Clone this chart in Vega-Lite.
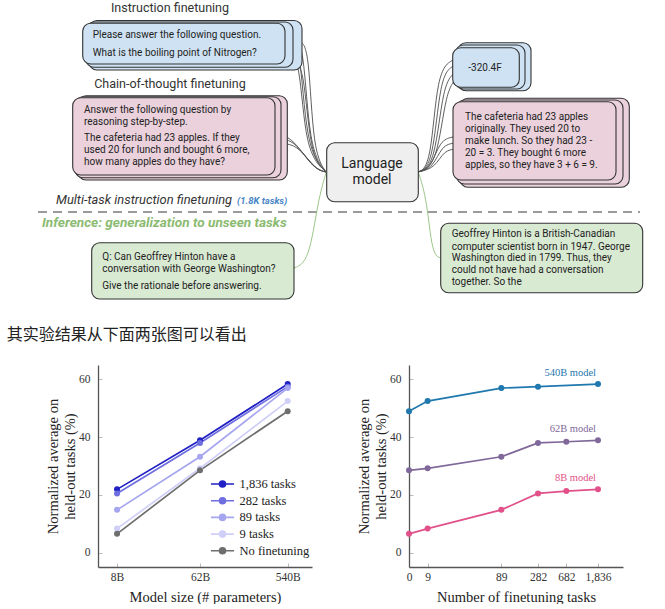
{
  "$schema": "https://vega.github.io/schema/vega-lite/v6.json",
  "padding": 0,
  "background": "white",
  "config": {
    "view": {"stroke": null},
    "axis": {"grid": false, "domainColor": "#555", "domainWidth": 1.3, "tickColor": "#bbb", "tickSize": -4, "labelFont": "Liberation Serif", "labelFontSize": 11.5, "labelColor": "#333", "titleFont": "Liberation Serif", "titleFontSize": 14.5, "titleFontWeight": "normal", "titleColor": "#222", "labelFlush": false, "labelOverlap": false},
    "axisX": {"labelPadding": 8, "titlePadding": 8},
    "axisY": {"labelPadding": 12, "titlePadding": 1, "titleLineHeight": 17.5}
  },
  "datasets": {
    "boxes": [
      {"kind": "blue", "x": 89, "x2": 302, "y": 20.5, "y2": 70},
      {"kind": "blue", "x": 86, "x2": 293, "y": 22, "y2": 67.3},
      {"kind": "blue", "x": 82.7, "x2": 285, "y": 23.3, "y2": 64},
      {"kind": "pink", "x": 78, "x2": 287.3, "y": 95.7, "y2": 180},
      {"kind": "pink", "x": 75, "x2": 281, "y": 96.8, "y2": 177.7},
      {"kind": "pink", "x": 72.7, "x2": 275, "y": 97.7, "y2": 175},
      {"kind": "green", "x": 91.7, "x2": 294, "y": 242.7, "y2": 299},
      {"kind": "gray", "x": 326.7, "x2": 418.3, "y": 142.7, "y2": 201.7},
      {"kind": "blue", "x": 458, "x2": 531, "y": 42.7, "y2": 90.7},
      {"kind": "blue", "x": 455.5, "x2": 525, "y": 45, "y2": 89},
      {"kind": "blue", "x": 452.7, "x2": 519.3, "y": 47.7, "y2": 87.3},
      {"kind": "pink", "x": 460, "x2": 629.3, "y": 98.3, "y2": 187.3},
      {"kind": "pink", "x": 456.5, "x2": 623, "y": 100, "y2": 184},
      {"kind": "pink", "x": 453, "x2": 616, "y": 101.7, "y2": 180},
      {"kind": "green", "x": 440.7, "x2": 642.7, "y": 223.3, "y2": 292.7}
    ],
    "curves": [
      {"id": "a1", "o": 0, "x": 286, "y": 30, "grp": "gray"}, {"id": "a1", "o": 1, "x": 300, "y": 36, "grp": "gray"}, {"id": "a1", "o": 2, "x": 306, "y": 150, "grp": "gray"}, {"id": "a1", "o": 3, "x": 326, "y": 172, "grp": "gray"},
      {"id": "a2", "o": 0, "x": 292, "y": 36, "grp": "gray"}, {"id": "a2", "o": 1, "x": 304, "y": 42, "grp": "gray"}, {"id": "a2", "o": 2, "x": 309, "y": 150, "grp": "gray"}, {"id": "a2", "o": 3, "x": 326, "y": 172, "grp": "gray"},
      {"id": "a3", "o": 0, "x": 301, "y": 42, "grp": "gray"}, {"id": "a3", "o": 1, "x": 309, "y": 50, "grp": "gray"}, {"id": "a3", "o": 2, "x": 313, "y": 152, "grp": "gray"}, {"id": "a3", "o": 3, "x": 326, "y": 172, "grp": "gray"},
      {"id": "a4", "o": 0, "x": 286, "y": 50, "grp": "gray"}, {"id": "a4", "o": 1, "x": 300, "y": 56, "grp": "gray"}, {"id": "a4", "o": 2, "x": 305, "y": 152, "grp": "gray"}, {"id": "a4", "o": 3, "x": 326, "y": 172, "grp": "gray"},
      {"id": "a5", "o": 0, "x": 293, "y": 60, "grp": "gray"}, {"id": "a5", "o": 1, "x": 304, "y": 66, "grp": "gray"}, {"id": "a5", "o": 2, "x": 310, "y": 156, "grp": "gray"}, {"id": "a5", "o": 3, "x": 326, "y": 172, "grp": "gray"},
      {"id": "b1", "o": 0, "x": 275, "y": 135, "grp": "gray"}, {"id": "b1", "o": 1, "x": 292, "y": 136, "grp": "gray"}, {"id": "b1", "o": 2, "x": 312, "y": 168, "grp": "gray"}, {"id": "b1", "o": 3, "x": 326, "y": 172, "grp": "gray"},
      {"id": "b2", "o": 0, "x": 281, "y": 139, "grp": "gray"}, {"id": "b2", "o": 1, "x": 295, "y": 141, "grp": "gray"}, {"id": "b2", "o": 2, "x": 314, "y": 169, "grp": "gray"}, {"id": "b2", "o": 3, "x": 326, "y": 172, "grp": "gray"},
      {"id": "b3", "o": 0, "x": 287, "y": 144, "grp": "gray"}, {"id": "b3", "o": 1, "x": 299, "y": 147, "grp": "gray"}, {"id": "b3", "o": 2, "x": 316, "y": 170, "grp": "gray"}, {"id": "b3", "o": 3, "x": 326, "y": 172, "grp": "gray"},
      {"id": "r1", "o": 0, "x": 418, "y": 172, "grp": "gray"}, {"id": "r1", "o": 1, "x": 431, "y": 166, "grp": "gray"}, {"id": "r1", "o": 2, "x": 437, "y": 70, "grp": "gray"}, {"id": "r1", "o": 3, "x": 453, "y": 60, "grp": "gray"},
      {"id": "r2", "o": 0, "x": 418, "y": 172, "grp": "gray"}, {"id": "r2", "o": 1, "x": 433, "y": 166, "grp": "gray"}, {"id": "r2", "o": 2, "x": 440, "y": 76, "grp": "gray"}, {"id": "r2", "o": 3, "x": 453, "y": 66, "grp": "gray"},
      {"id": "r3", "o": 0, "x": 418, "y": 172, "grp": "gray"}, {"id": "r3", "o": 1, "x": 435, "y": 166, "grp": "gray"}, {"id": "r3", "o": 2, "x": 443, "y": 82, "grp": "gray"}, {"id": "r3", "o": 3, "x": 456, "y": 72, "grp": "gray"},
      {"id": "r4", "o": 0, "x": 418, "y": 172, "grp": "gray"}, {"id": "r4", "o": 1, "x": 437, "y": 166, "grp": "gray"}, {"id": "r4", "o": 2, "x": 446, "y": 88, "grp": "gray"}, {"id": "r4", "o": 3, "x": 458, "y": 78, "grp": "gray"},
      {"id": "s1", "o": 0, "x": 418, "y": 172, "grp": "gray"}, {"id": "s1", "o": 1, "x": 431, "y": 168, "grp": "gray"}, {"id": "s1", "o": 2, "x": 440, "y": 140, "grp": "gray"}, {"id": "s1", "o": 3, "x": 453, "y": 137, "grp": "gray"},
      {"id": "s2", "o": 0, "x": 418, "y": 172, "grp": "gray"}, {"id": "s2", "o": 1, "x": 433, "y": 168, "grp": "gray"}, {"id": "s2", "o": 2, "x": 442, "y": 145, "grp": "gray"}, {"id": "s2", "o": 3, "x": 455, "y": 143, "grp": "gray"},
      {"id": "s3", "o": 0, "x": 418, "y": 172, "grp": "gray"}, {"id": "s3", "o": 1, "x": 435, "y": 168, "grp": "gray"}, {"id": "s3", "o": 2, "x": 444, "y": 150, "grp": "gray"}, {"id": "s3", "o": 3, "x": 457, "y": 149, "grp": "gray"},
      {"id": "g1", "o": 0, "x": 326, "y": 173, "grp": "green"}, {"id": "g1", "o": 1, "x": 318, "y": 200, "grp": "green"}, {"id": "g1", "o": 2, "x": 309, "y": 262, "grp": "green"}, {"id": "g1", "o": 3, "x": 294, "y": 268, "grp": "green"},
      {"id": "g2", "o": 0, "x": 419, "y": 174, "grp": "green"}, {"id": "g2", "o": 1, "x": 427, "y": 200, "grp": "green"}, {"id": "g2", "o": 2, "x": 432, "y": 255, "grp": "green"}, {"id": "g2", "o": 3, "x": 441, "y": 258, "grp": "green"}
    ],
    "texts": [
      {"s": "head", "t": "Instruction finetuning", "x": 170, "y": 7.5},
      {"s": "head", "t": "Chain-of-thought finetuning", "x": 170, "y": 84},
      {"s": "body", "t": "Please answer the following question.", "x": 92.7, "y": 35},
      {"s": "body", "t": "What is the boiling point of Nitrogen?", "x": 92.7, "y": 52.7},
      {"s": "body", "t": "Answer the following question by", "x": 84, "y": 110},
      {"s": "body", "t": "reasoning step-by-step.", "x": 84, "y": 122.3},
      {"s": "body", "t": "The cafeteria had 23 apples. If they", "x": 84, "y": 138.3},
      {"s": "body", "t": "used 20 for lunch and bought 6 more,", "x": 84, "y": 150.3},
      {"s": "body", "t": "how many apples do they have?", "x": 84, "y": 162.3},
      {"s": "body", "t": "Q: Can Geoffrey Hinton have a", "x": 102.3, "y": 256.7},
      {"s": "body", "t": "conversation with George Washington?", "x": 102.3, "y": 268.7},
      {"s": "body", "t": "Give the rationale before answering.", "x": 102.3, "y": 286},
      {"s": "body", "t": "-320.4F", "x": 468.3, "y": 68.3},
      {"s": "body", "t": "The cafeteria had 23 apples", "x": 465, "y": 117.3},
      {"s": "body", "t": "originally. They used 20 to", "x": 465, "y": 129},
      {"s": "body", "t": "make lunch. So they had 23 -", "x": 465, "y": 140.7},
      {"s": "body", "t": "20 = 3. They bought 6 more", "x": 465, "y": 152.7},
      {"s": "body", "t": "apples, so they have 3 + 6 = 9.", "x": 465, "y": 164.7},
      {"s": "body", "t": "Geoffrey Hinton is a British-Canadian", "x": 451.7, "y": 234.3},
      {"s": "body", "t": "computer scientist born in 1947. George", "x": 451.7, "y": 246.7},
      {"s": "body", "t": "Washington died in 1799. Thus, they", "x": 451.7, "y": 258.3},
      {"s": "body", "t": "could not have had a conversation", "x": 451.7, "y": 270},
      {"s": "body", "t": "together. So the", "x": 451.7, "y": 282},
      {"s": "lm", "t": "Language", "x": 372, "y": 164.3},
      {"s": "lm", "t": "model", "x": 372, "y": 180},
      {"s": "multi", "t": "Multi-task instruction finetuning", "x": 56, "y": 200},
      {"s": "tasks", "t": "(1.8K tasks)", "x": 237, "y": 200.5},
      {"s": "infer", "t": "Inference: generalization to unseen tasks", "x": 42, "y": 223},
      {"s": "zh", "t": "其实验结果从下面两张图可以看出", "x": 6.7, "y": 335}
    ],
    "dash": [{"x": 38, "x2": 640, "y": 212}],
    "sizes": [
      {"setting": "1,836 tasks", "params": 8, "score": 21.9}, {"setting": "1,836 tasks", "params": 62, "score": 38.9}, {"setting": "1,836 tasks", "params": 540, "score": 58.4},
      {"setting": "282 tasks", "params": 8, "score": 20.5}, {"setting": "282 tasks", "params": 62, "score": 38.0}, {"setting": "282 tasks", "params": 540, "score": 57.5},
      {"setting": "89 tasks", "params": 8, "score": 14.8}, {"setting": "89 tasks", "params": 62, "score": 33.2}, {"setting": "89 tasks", "params": 540, "score": 57.0},
      {"setting": "9 tasks", "params": 8, "score": 8.3}, {"setting": "9 tasks", "params": 62, "score": 29.2}, {"setting": "9 tasks", "params": 540, "score": 52.5},
      {"setting": "No finetuning", "params": 8, "score": 6.5}, {"setting": "No finetuning", "params": 62, "score": 28.5}, {"setting": "No finetuning", "params": 540, "score": 49.0}
    ],
    "tasks": [
      {"model": "540B model", "tasks": 0, "score": 49.0}, {"model": "540B model", "tasks": 9, "score": 52.5}, {"model": "540B model", "tasks": 89, "score": 57.0}, {"model": "540B model", "tasks": 282, "score": 57.5}, {"model": "540B model", "tasks": 1836, "score": 58.4},
      {"model": "62B model", "tasks": 0, "score": 28.5}, {"model": "62B model", "tasks": 9, "score": 29.2}, {"model": "62B model", "tasks": 89, "score": 33.2}, {"model": "62B model", "tasks": 282, "score": 38.0}, {"model": "62B model", "tasks": 682, "score": 38.4}, {"model": "62B model", "tasks": 1836, "score": 38.9},
      {"model": "8B model", "tasks": 0, "score": 6.5}, {"model": "8B model", "tasks": 9, "score": 8.3}, {"model": "8B model", "tasks": 89, "score": 14.8}, {"model": "8B model", "tasks": 282, "score": 20.5}, {"model": "8B model", "tasks": 682, "score": 21.3}, {"model": "8B model", "tasks": 1836, "score": 21.9}
    ],
    "empty": []
  },
  "resolve": {"scale": {"fill": "independent", "stroke": "independent", "color": "independent"}},
  "spacing": 15,
  "vconcat": [
    {
      "width": 665,
      "height": 350,
      "layer": [
        {
          "data": {"name": "dash"},
          "mark": {"type": "rule", "stroke": "#9a9a9a", "strokeWidth": 2, "strokeDash": [9, 6]},
          "encoding": {
            "x": {"field": "x", "type": "quantitative", "scale": {"domain": [0, 665], "nice": false, "zero": false}, "axis": null},
            "x2": {"field": "x2"},
            "y": {"field": "y", "type": "quantitative", "scale": {"domain": [0, 350], "nice": false, "zero": false, "reverse": true}, "axis": null}
          }
        },
        {
          "data": {"name": "curves"},
          "mark": {"type": "line", "interpolate": "basis", "strokeWidth": 0.9},
          "encoding": {
            "x": {"field": "x", "type": "quantitative", "scale": {"domain": [0, 665], "nice": false, "zero": false}, "axis": null},
            "y": {"field": "y", "type": "quantitative", "scale": {"domain": [0, 350], "nice": false, "zero": false, "reverse": true}, "axis": null},
            "detail": {"field": "id"},
            "order": {"field": "o"},
            "stroke": {"field": "grp", "type": "nominal", "scale": {"domain": ["gray", "green"], "range": ["#4d4d4d", "#8fc079"]}, "legend": null}
          }
        },
        {
          "data": {"name": "boxes"},
          "mark": {"type": "rect", "cornerRadius": 8, "stroke": "#333", "strokeWidth": 1.1},
          "encoding": {
            "x": {"field": "x", "type": "quantitative", "scale": {"domain": [0, 665], "nice": false, "zero": false}, "axis": null},
            "x2": {"field": "x2"},
            "y": {"field": "y", "type": "quantitative", "scale": {"domain": [0, 350], "nice": false, "zero": false, "reverse": true}, "axis": null},
            "y2": {"field": "y2"},
            "fill": {"field": "kind", "type": "nominal", "scale": {"domain": ["blue", "pink", "green", "gray"], "range": ["#cfe2f3", "#ead1dc", "#d9ead3", "#efefef"]}, "legend": null}
          }
        },
        {
          "data": {"name": "texts"},
          "transform": [{"filter": "datum.s == 'body'"}],
          "mark": {"type": "text", "align": "left", "baseline": "middle", "font": "Roboto", "fontSize": 10, "fill": "#222"},
          "encoding": {
            "x": {"field": "x", "type": "quantitative", "scale": {"domain": [0, 665], "nice": false, "zero": false}, "axis": null},
            "y": {"field": "y", "type": "quantitative", "scale": {"domain": [0, 350], "nice": false, "zero": false, "reverse": true}, "axis": null},
            "text": {"field": "t"}
          }
        },
        {
          "data": {"name": "texts"},
          "transform": [{"filter": "datum.s == 'head'"}],
          "mark": {"type": "text", "align": "center", "baseline": "middle", "font": "Roboto", "fontSize": 12.5, "fill": "#333"},
          "encoding": {
            "x": {"field": "x", "type": "quantitative", "scale": {"domain": [0, 665], "nice": false, "zero": false}, "axis": null},
            "y": {"field": "y", "type": "quantitative", "scale": {"domain": [0, 350], "nice": false, "zero": false, "reverse": true}, "axis": null},
            "text": {"field": "t"}
          }
        },
        {
          "data": {"name": "texts"},
          "transform": [{"filter": "datum.s == 'lm'"}],
          "mark": {"type": "text", "align": "center", "baseline": "middle", "font": "Roboto", "fontSize": 14, "fill": "#222"},
          "encoding": {
            "x": {"field": "x", "type": "quantitative", "scale": {"domain": [0, 665], "nice": false, "zero": false}, "axis": null},
            "y": {"field": "y", "type": "quantitative", "scale": {"domain": [0, 350], "nice": false, "zero": false, "reverse": true}, "axis": null},
            "text": {"field": "t"}
          }
        },
        {
          "data": {"name": "texts"},
          "transform": [{"filter": "datum.s == 'multi'"}],
          "mark": {"type": "text", "align": "left", "baseline": "middle", "font": "Roboto", "fontSize": 12.9, "fontStyle": "italic", "fill": "#333"},
          "encoding": {
            "x": {"field": "x", "type": "quantitative", "scale": {"domain": [0, 665], "nice": false, "zero": false}, "axis": null},
            "y": {"field": "y", "type": "quantitative", "scale": {"domain": [0, 350], "nice": false, "zero": false, "reverse": true}, "axis": null},
            "text": {"field": "t"}
          }
        },
        {
          "data": {"name": "texts"},
          "transform": [{"filter": "datum.s == 'tasks'"}],
          "mark": {"type": "text", "align": "left", "baseline": "middle", "font": "Roboto", "fontSize": 9.5, "fontStyle": "italic", "fontWeight": "bold", "fill": "#4a86c8"},
          "encoding": {
            "x": {"field": "x", "type": "quantitative", "scale": {"domain": [0, 665], "nice": false, "zero": false}, "axis": null},
            "y": {"field": "y", "type": "quantitative", "scale": {"domain": [0, 350], "nice": false, "zero": false, "reverse": true}, "axis": null},
            "text": {"field": "t"}
          }
        },
        {
          "data": {"name": "texts"},
          "transform": [{"filter": "datum.s == 'infer'"}],
          "mark": {"type": "text", "align": "left", "baseline": "middle", "font": "Roboto", "fontSize": 13.6, "fontStyle": "italic", "fontWeight": "bold", "fill": "#8bbb70"},
          "encoding": {
            "x": {"field": "x", "type": "quantitative", "scale": {"domain": [0, 665], "nice": false, "zero": false}, "axis": null},
            "y": {"field": "y", "type": "quantitative", "scale": {"domain": [0, 350], "nice": false, "zero": false, "reverse": true}, "axis": null},
            "text": {"field": "t"}
          }
        },
        {
          "data": {"name": "texts"},
          "transform": [{"filter": "datum.s == 'zh'"}],
          "mark": {"type": "text", "align": "left", "baseline": "middle", "font": "Noto Sans CJK SC", "fontSize": 16, "fill": "#222"},
          "encoding": {
            "x": {"field": "x", "type": "quantitative", "scale": {"domain": [0, 665], "nice": false, "zero": false}, "axis": null},
            "y": {"field": "y", "type": "quantitative", "scale": {"domain": [0, 350], "nice": false, "zero": false, "reverse": true}, "axis": null},
            "text": {"field": "t"}
          }
        }
      ]
    },
    {
      "spacing": 0,
      "resolve": {"scale": {"fill": "independent", "stroke": "independent", "color": "independent", "y": "independent"}},
      "hconcat": [
        {"width": 45, "height": 202, "data": {"name": "empty"}, "mark": "point"},
        {
          "spacing": 44,
          "resolve": {"scale": {"fill": "independent", "stroke": "independent", "color": "independent", "y": "independent"}},
          "hconcat": [
            {
              "width": 214,
              "height": 202,
              "data": {"name": "sizes"},
              "encoding": {
                "x": {"field": "params", "type": "quantitative", "scale": {"type": "log", "domain": [5, 984], "nice": false}, "axis": {"values": [8, 62, 540], "labelExpr": "datum.value + 'B'", "title": "Model size (# parameters)"}},
                "y": {"field": "score", "type": "quantitative", "scale": {"domain": [-5, 65], "nice": false, "zero": false}, "axis": {"values": [0, 20, 40, 60], "title": ["Normalized average on", "held-out tasks (%)"]}}
              },
              "layer": [
                {
                  "mark": {"type": "line", "strokeWidth": 1.7},
                  "encoding": {
                    "stroke": {"field": "setting", "type": "nominal", "sort": null, "scale": {"domain": ["1,836 tasks", "282 tasks", "89 tasks", "9 tasks", "No finetuning"], "range": ["#2020c4", "#6e6ee0", "#a6a6f0", "#cfcff8", "#6e6e6e"]},
                      "legend": {"title": null, "orient": "none", "legendX": 116.5, "legendY": 111, "symbolType": "M-1.65,0L1.65,0M-0.43,0A0.43,0.43,0,1,1,0.43,0A0.43,0.43,0,1,1,-0.43,0Z", "symbolSize": 196, "symbolStrokeWidth": 1.6, "labelFont": "Liberation Serif", "labelFontSize": 12.5, "labelColor": "#222", "labelOffset": 9, "rowPadding": 1.7}}
                  }
                },
                {
                  "mark": {"type": "point", "filled": true, "size": 36, "opacity": 1},
                  "encoding": {
                    "fill": {"field": "setting", "type": "nominal", "sort": null, "scale": {"domain": ["1,836 tasks", "282 tasks", "89 tasks", "9 tasks", "No finetuning"], "range": ["#2020c4", "#6e6ee0", "#a6a6f0", "#cfcff8", "#6e6e6e"]},
                      "legend": {"title": null, "orient": "none", "legendX": 116.5, "legendY": 111, "symbolType": "M-1.65,0L1.65,0M-0.43,0A0.43,0.43,0,1,1,0.43,0A0.43,0.43,0,1,1,-0.43,0Z", "symbolSize": 196, "symbolStrokeWidth": 1.6, "labelFont": "Liberation Serif", "labelFontSize": 12.5, "labelColor": "#222", "labelOffset": 9, "rowPadding": 1.7}}
                  }
                }
              ]
            },
            {
              "width": 214,
              "height": 202,
              "data": {"name": "tasks"},
              "encoding": {
                "x": {"field": "tasks", "type": "quantitative", "scale": {"type": "linear", "domain": [0, 9, 89, 282, 682, 1836, 2700], "range": [0, 18.6, 92.3, 129, 157.3, 189, 214], "nice": false, "zero": false}, "axis": {"values": [0, 9, 89, 282, 682, 1836], "labelExpr": "format(datum.value, ',')", "title": "Number of finetuning tasks"}},
                "y": {"field": "score", "type": "quantitative", "scale": {"domain": [-5, 65], "nice": false, "zero": false}, "axis": {"values": [0, 20, 40, 60], "title": ["Normalized average on", "held-out tasks (%)"]}},
                "color": {"field": "model", "type": "nominal", "scale": {"domain": ["540B model", "62B model", "8B model"], "range": ["#1f78ae", "#80689a", "#e2508a"]}, "legend": null}
              },
              "layer": [
                {"mark": {"type": "line", "strokeWidth": 1.7}},
                {"mark": {"type": "point", "filled": true, "size": 36, "opacity": 1}},
                {
                  "transform": [{"filter": "datum.tasks == 1836"}],
                  "mark": {"type": "text", "align": "right", "baseline": "middle", "dx": -2, "dy": -11, "font": "Liberation Serif", "fontSize": 10.5},
                  "encoding": {"text": {"field": "model"}}
                }
              ]
            }
          ]
        }
      ]
    }
  ]
}
